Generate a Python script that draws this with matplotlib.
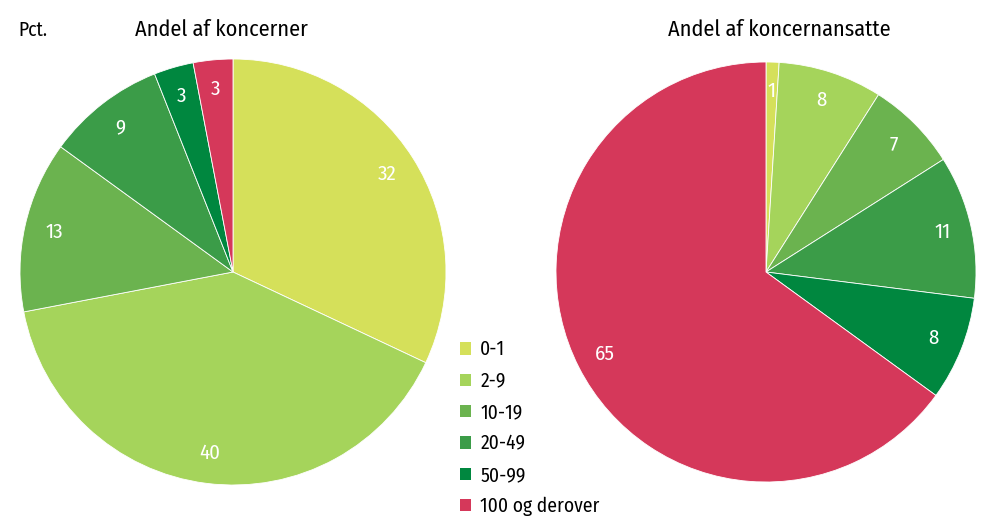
import matplotlib.pyplot as plt
from matplotlib.patches import Patch

plt.rcParams['font.family'] = ['Fira Sans Condensed', 'DejaVu Sans']

# size classes (number of employees)
categories = ["0-1", "2-9", "10-19", "20-49", "50-99", "100 og derover"]
share_groups = [32, 40, 13, 9, 3, 3]       # Andel af koncerner
share_employees = [1, 8, 7, 11, 8, 65]     # Andel af koncernansatte
colors = ["#d5e05a", "#a5d45b", "#6bb34f", "#3b9c48", "#00873f", "#d5385a"]

W, H = 985, 521
fig = plt.figure(figsize=(W / 100, H / 100), dpi=100)


def pie_axes(cx, cy, r):
    return fig.add_axes([(cx - r) / W, (H - cy - r) / H, 2 * r / W, 2 * r / H])


def draw_pie(ax, values):
    ax.pie(values, colors=colors, startangle=90, counterclock=False,
           radius=1, autopct=lambda p: "{0:.0f}".format(p), pctdistance=0.86,
           wedgeprops=dict(edgecolor="white", linewidth=0.6),
           textprops=dict(color="white", fontsize=15))
    ax.set_xlim(-1, 1)
    ax.set_ylim(-1, 1)
    ax.axis("off")


ax1 = pie_axes(233, 272, 213)
draw_pie(ax1, share_groups)
ax2 = pie_axes(766, 272, 210)
draw_pie(ax2, share_employees)

fig.text(18 / W, 1 - 30 / H, "Pct.", fontsize=14, va="center", ha="left")
fig.text(221 / W, 1 - 30 / H, "Andel af koncerner", fontsize=16, va="center", ha="center")
fig.text(779 / W, 1 - 30 / H, "Andel af koncernansatte", fontsize=16, va="center", ha="center")

handles = [Patch(facecolor=c, edgecolor="none") for c in colors]
fig.legend(handles, categories, loc="upper left", bbox_to_anchor=(452 / W, 1 - 332 / H),
           frameon=False, fontsize=14, handlelength=0.6, handleheight=0.6,
           handletextpad=0.45, labelspacing=0.61, borderaxespad=0)

fig.savefig("out.png", dpi=100)
